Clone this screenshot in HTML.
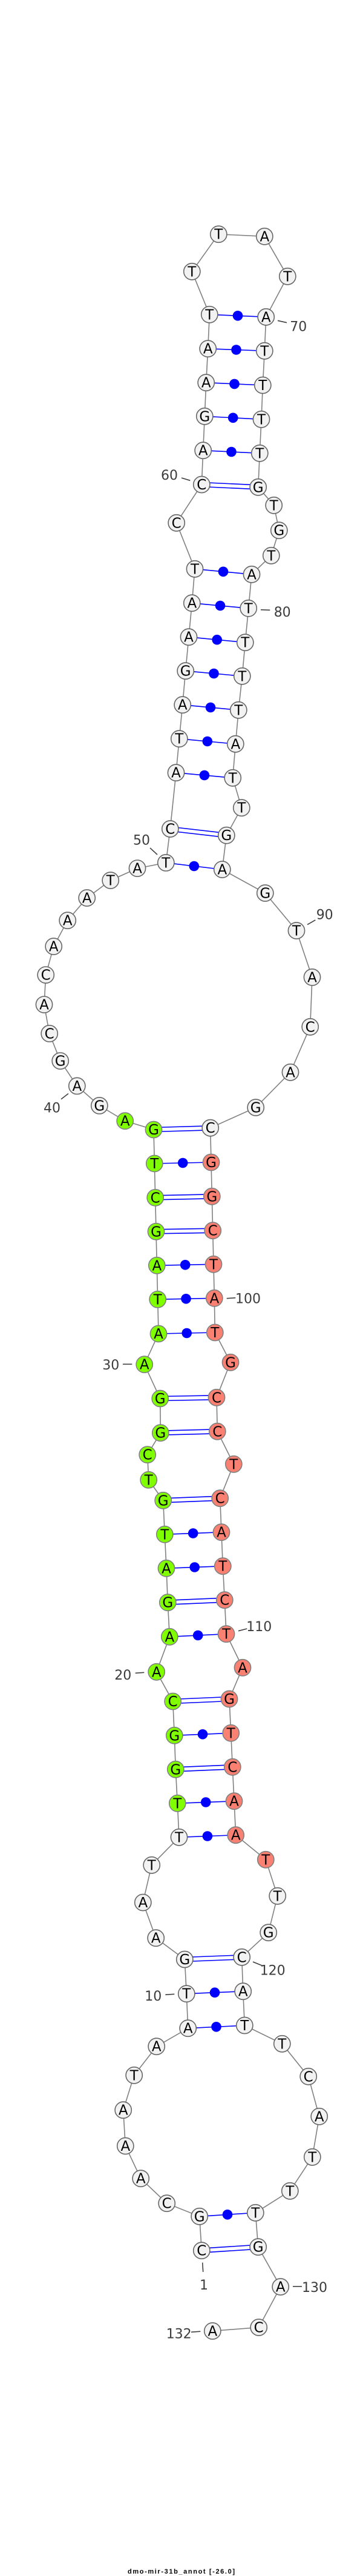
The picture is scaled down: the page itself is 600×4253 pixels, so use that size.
<!DOCTYPE html>
<html><head><meta charset="utf-8"><style>
html,body{margin:0;padding:0;background:#fff}
svg{display:block}
.b{fill:none;stroke:#808080;stroke-width:1.6}
.p line{stroke:#0000ff;stroke-width:1.6}
.d circle{fill:#0000ff}
.n circle{fill:#f2f2f2;stroke:#666;stroke-width:1.6}
.n text{font:23px "DejaVu Sans",sans-serif;text-anchor:middle;fill:#000}
.g circle{fill:#7fff00;stroke:#808080}
.s circle{fill:#fa8072;stroke:#808080}
.t line{stroke:#404040;stroke-width:1.6}
.l text{font:22px "DejaVu Sans",sans-serif;text-anchor:middle;fill:#3c3c3c}
</style></head><body>
<svg xmlns="http://www.w3.org/2000/svg" width="600" height="4253" viewBox="0 0 600 4253">
<polyline class="b" points="333.3,3715.7 329.7,3659.3 275.7,3637.7 232.7,3596.7 207.3,3543 203.7,3483.7 221.7,3426.3 258.7,3378.7 310.7,3348.7 308.3,3291.7 305.3,3235 257.7,3199.7 236.3,3141 250.7,3079.3 296,3033.3 293.3,2977.3 290.3,2921.3 288.3,2865.3 285.7,2809 258.7,2760.3 280.3,2702.3 277.3,2645.7 275,2589.3 272.3,2533.3 269.7,2477.3 245.7,2443.3 243.7,2401.7 265.3,2365.7 264.7,2309 238.7,2252.7 262,2202 260.7,2145.3 259.3,2089.3 258,2033.3 256.7,1977.3 255.3,1921 254,1865 206.7,1850.7 164.3,1825.4 127.3,1792.9 99.7,1751.6 81.7,1706.4 73,1658.6 75.7,1609.6 88.7,1562.5 111.7,1519.7 143.7,1482.5 182.7,1453.5 227,1433.6 274.3,1424.4 281.3,1368.5 291,1275.7 296.3,1219.7 301.7,1163.7 306.7,1107.7 312,1051.7 317.3,995.7 322,939.3 291.7,863.3 333.3,800 335.7,743.7 338.3,687.3 340.7,631.7 343.7,575.7 346.3,519.3 317.3,448.3 361.3,386.7 437.3,390.3 475.3,456.3 439.7,523.3 437.3,579.3 434.3,636 432,692.3 429.3,748.3 426.7,804.3 452.7,834.3 461.3,875.7 448.3,917.3 416,948.3 410.7,1004.3 405.3,1060.7 400.3,1116.3 394.3,1172.3 389.3,1228.3 384.7,1284.3 399.3,1333.7 374.3,1379.2 367.3,1435.5 438.3,1474.5 490,1536.5 516,1613.4 512.7,1695.3 480,1770.3 422.7,1828.5 347.7,1862.2 349,1919 350.3,1975.3 351.7,2031.7 353,2087.3 354.3,2143.3 355.3,2200 381,2249.3 358,2307.3 359.3,2363.3 386.3,2417.3 363.7,2473.7 366,2529.7 368.3,2585.7 371.3,2641.7 374,2697.7 401,2753.3 379,2805 381.7,2861.3 384.3,2917.3 387,2973.7 389.7,3029.7 439.3,3070.3 458.7,3130.3 443.7,3190.7 399.7,3231.3 401.7,3287.7 404.3,3344 466.3,3374.3 509.7,3428.3 527.7,3494.3 516.3,3561.3 479.3,3617.3 422.3,3653.3 426.7,3709.7 463.7,3775.5 427.7,3842.5 351.3,3848.5"/>
<g class="p">
<line x1="329.7" y1="3659.3" x2="422.3" y2="3653.3"/>
<line x1="310.7" y1="3348.7" x2="404.3" y2="3344"/>
<line x1="308.3" y1="3291.7" x2="401.7" y2="3287.7"/>
<line x1="296" y1="3033.3" x2="389.7" y2="3029.7"/>
<line x1="293.3" y1="2977.3" x2="387" y2="2973.7"/>
<line x1="288.3" y1="2865.3" x2="381.7" y2="2861.3"/>
<line x1="280.3" y1="2702.3" x2="374" y2="2697.7"/>
<line x1="275" y1="2589.3" x2="368.3" y2="2585.7"/>
<line x1="272.3" y1="2533.3" x2="366" y2="2529.7"/>
<line x1="262" y1="2202" x2="355.3" y2="2200"/>
<line x1="260.7" y1="2145.3" x2="354.3" y2="2143.3"/>
<line x1="259.3" y1="2089.3" x2="353" y2="2087.3"/>
<line x1="255.3" y1="1921" x2="349" y2="1919"/>
<line x1="274.3" y1="1424.4" x2="367.3" y2="1435.5"/>
<line x1="291" y1="1275.7" x2="384.7" y2="1284.3"/>
<line x1="296.3" y1="1219.7" x2="389.3" y2="1228.3"/>
<line x1="301.7" y1="1163.7" x2="394.3" y2="1172.3"/>
<line x1="306.7" y1="1107.7" x2="400.3" y2="1116.3"/>
<line x1="312" y1="1051.7" x2="405.3" y2="1060.7"/>
<line x1="317.3" y1="995.7" x2="410.7" y2="1004.3"/>
<line x1="322" y1="939.3" x2="416" y2="948.3"/>
<line x1="335.7" y1="743.7" x2="429.3" y2="748.3"/>
<line x1="338.3" y1="687.3" x2="432" y2="692.3"/>
<line x1="340.7" y1="631.7" x2="434.3" y2="636"/>
<line x1="343.7" y1="575.7" x2="437.3" y2="579.3"/>
<line x1="346.3" y1="519.3" x2="439.7" y2="523.3"/>
<line x1="333.3" y1="3712.2" x2="426.7" y2="3706.2"/><line x1="333.3" y1="3719.2" x2="426.7" y2="3713.2"/>
<line x1="305.3" y1="3231.5" x2="399.7" y2="3227.8"/><line x1="305.3" y1="3238.5" x2="399.7" y2="3234.8"/>
<line x1="285.7" y1="2805.5" x2="379" y2="2801.5"/><line x1="285.7" y1="2812.5" x2="379" y2="2808.5"/>
<line x1="290.3" y1="2917.8" x2="384.3" y2="2913.8"/><line x1="290.3" y1="2924.8" x2="384.3" y2="2920.8"/>
<line x1="277.3" y1="2642.2" x2="371.3" y2="2638.2"/><line x1="277.3" y1="2649.2" x2="371.3" y2="2645.2"/>
<line x1="269.7" y1="2473.8" x2="363.7" y2="2470.2"/><line x1="269.7" y1="2480.8" x2="363.7" y2="2477.2"/>
<line x1="265.3" y1="2362.2" x2="359.3" y2="2359.8"/><line x1="265.3" y1="2369.2" x2="359.3" y2="2366.8"/>
<line x1="264.7" y1="2305.5" x2="358" y2="2303.8"/><line x1="264.7" y1="2312.5" x2="358" y2="2310.8"/>
<line x1="258" y1="2029.8" x2="351.7" y2="2028.2"/><line x1="258" y1="2036.8" x2="351.7" y2="2035.2"/>
<line x1="256.7" y1="1973.8" x2="350.3" y2="1971.8"/><line x1="256.7" y1="1980.8" x2="350.3" y2="1978.8"/>
<line x1="254" y1="1861.5" x2="347.7" y2="1858.8"/><line x1="254" y1="1868.5" x2="347.7" y2="1865.8"/>
<line x1="281.3" y1="1365" x2="374.3" y2="1375.7"/><line x1="281.3" y1="1372" x2="374.3" y2="1382.7"/>
<line x1="333.3" y1="796.5" x2="426.7" y2="800.8"/><line x1="333.3" y1="803.5" x2="426.7" y2="807.8"/>
</g>
<g class="d">
<circle cx="376" cy="3656.3" r="8.3"/><circle cx="357.5" cy="3346.3" r="8.3"/><circle cx="355" cy="3289.7" r="8.3"/><circle cx="342.9" cy="3031.5" r="8.3"/><circle cx="340.2" cy="2975.5" r="8.3"/><circle cx="335" cy="2863.3" r="8.3"/><circle cx="327.2" cy="2700" r="8.3"/><circle cx="321.7" cy="2587.5" r="8.3"/><circle cx="319.2" cy="2531.5" r="8.3"/><circle cx="308.7" cy="2201" r="8.3"/><circle cx="307.5" cy="2144.3" r="8.3"/><circle cx="306.2" cy="2088.3" r="8.3"/><circle cx="302.2" cy="1920" r="8.3"/><circle cx="320.8" cy="1430" r="8.3"/><circle cx="337.9" cy="1280" r="8.3"/><circle cx="342.8" cy="1224" r="8.3"/><circle cx="348" cy="1168" r="8.3"/><circle cx="353.5" cy="1112" r="8.3"/><circle cx="358.7" cy="1056.2" r="8.3"/><circle cx="364" cy="1000" r="8.3"/><circle cx="369" cy="943.8" r="8.3"/><circle cx="382.5" cy="746" r="8.3"/><circle cx="385.2" cy="689.8" r="8.3"/><circle cx="387.5" cy="633.9" r="8.3"/><circle cx="390.5" cy="577.5" r="8.3"/><circle cx="393" cy="521.3" r="8.3"/>
</g>
<g class="n">
<g transform="translate(333.3 3715.7)"><circle r="13.6"/><text y="8">C</text></g>
<g transform="translate(329.7 3659.3)"><circle r="13.6"/><text y="8">G</text></g>
<g transform="translate(275.7 3637.7)"><circle r="13.6"/><text y="8">C</text></g>
<g transform="translate(232.7 3596.7)"><circle r="13.6"/><text y="8">A</text></g>
<g transform="translate(207.3 3543)"><circle r="13.6"/><text y="8">A</text></g>
<g transform="translate(203.7 3483.7)"><circle r="13.6"/><text y="8">A</text></g>
<g transform="translate(221.7 3426.3)"><circle r="13.6"/><text y="8">T</text></g>
<g transform="translate(258.7 3378.7)"><circle r="13.6"/><text y="8">A</text></g>
<g transform="translate(310.7 3348.7)"><circle r="13.6"/><text y="8">A</text></g>
<g transform="translate(308.3 3291.7)"><circle r="13.6"/><text y="8">T</text></g>
<g transform="translate(305.3 3235)"><circle r="13.6"/><text y="8">G</text></g>
<g transform="translate(257.7 3199.7)"><circle r="13.6"/><text y="8">A</text></g>
<g transform="translate(236.3 3141)"><circle r="13.6"/><text y="8">A</text></g>
<g transform="translate(250.7 3079.3)"><circle r="13.6"/><text y="8">T</text></g>
<g transform="translate(296 3033.3)"><circle r="13.6"/><text y="8">T</text></g>
<g class="g" transform="translate(293.3 2977.3)"><circle r="13.6"/><text y="8">T</text></g>
<g class="g" transform="translate(290.3 2921.3)"><circle r="13.6"/><text y="8">G</text></g>
<g class="g" transform="translate(288.3 2865.3)"><circle r="13.6"/><text y="8">G</text></g>
<g class="g" transform="translate(285.7 2809)"><circle r="13.6"/><text y="8">C</text></g>
<g class="g" transform="translate(258.7 2760.3)"><circle r="13.6"/><text y="8">A</text></g>
<g class="g" transform="translate(280.3 2702.3)"><circle r="13.6"/><text y="8">A</text></g>
<g class="g" transform="translate(277.3 2645.7)"><circle r="13.6"/><text y="8">G</text></g>
<g class="g" transform="translate(275 2589.3)"><circle r="13.6"/><text y="8">A</text></g>
<g class="g" transform="translate(272.3 2533.3)"><circle r="13.6"/><text y="8">T</text></g>
<g class="g" transform="translate(269.7 2477.3)"><circle r="13.6"/><text y="8">G</text></g>
<g class="g" transform="translate(245.7 2443.3)"><circle r="13.6"/><text y="8">T</text></g>
<g class="g" transform="translate(243.7 2401.7)"><circle r="13.6"/><text y="8">C</text></g>
<g class="g" transform="translate(265.3 2365.7)"><circle r="13.6"/><text y="8">G</text></g>
<g class="g" transform="translate(264.7 2309)"><circle r="13.6"/><text y="8">G</text></g>
<g class="g" transform="translate(238.7 2252.7)"><circle r="13.6"/><text y="8">A</text></g>
<g class="g" transform="translate(262 2202)"><circle r="13.6"/><text y="8">A</text></g>
<g class="g" transform="translate(260.7 2145.3)"><circle r="13.6"/><text y="8">T</text></g>
<g class="g" transform="translate(259.3 2089.3)"><circle r="13.6"/><text y="8">A</text></g>
<g class="g" transform="translate(258 2033.3)"><circle r="13.6"/><text y="8">G</text></g>
<g class="g" transform="translate(256.7 1977.3)"><circle r="13.6"/><text y="8">C</text></g>
<g class="g" transform="translate(255.3 1921)"><circle r="13.6"/><text y="8">T</text></g>
<g class="g" transform="translate(254 1865)"><circle r="13.6"/><text y="8">G</text></g>
<g class="g" transform="translate(206.7 1850.7)"><circle r="13.6"/><text y="8">A</text></g>
<g transform="translate(164.3 1825.4)"><circle r="13.6"/><text y="8">G</text></g>
<g transform="translate(127.3 1792.9)"><circle r="13.6"/><text y="8">A</text></g>
<g transform="translate(99.7 1751.6)"><circle r="13.6"/><text y="8">G</text></g>
<g transform="translate(81.7 1706.4)"><circle r="13.6"/><text y="8">C</text></g>
<g transform="translate(73 1658.6)"><circle r="13.6"/><text y="8">A</text></g>
<g transform="translate(75.7 1609.6)"><circle r="13.6"/><text y="8">C</text></g>
<g transform="translate(88.7 1562.5)"><circle r="13.6"/><text y="8">A</text></g>
<g transform="translate(111.7 1519.7)"><circle r="13.6"/><text y="8">A</text></g>
<g transform="translate(143.7 1482.5)"><circle r="13.6"/><text y="8">A</text></g>
<g transform="translate(182.7 1453.5)"><circle r="13.6"/><text y="8">T</text></g>
<g transform="translate(227 1433.6)"><circle r="13.6"/><text y="8">A</text></g>
<g transform="translate(274.3 1424.4)"><circle r="13.6"/><text y="8">T</text></g>
<g transform="translate(281.3 1368.5)"><circle r="13.6"/><text y="8">C</text></g>
<g transform="translate(291 1275.7)"><circle r="13.6"/><text y="8">A</text></g>
<g transform="translate(296.3 1219.7)"><circle r="13.6"/><text y="8">T</text></g>
<g transform="translate(301.7 1163.7)"><circle r="13.6"/><text y="8">A</text></g>
<g transform="translate(306.7 1107.7)"><circle r="13.6"/><text y="8">G</text></g>
<g transform="translate(312 1051.7)"><circle r="13.6"/><text y="8">A</text></g>
<g transform="translate(317.3 995.7)"><circle r="13.6"/><text y="8">A</text></g>
<g transform="translate(322 939.3)"><circle r="13.6"/><text y="8">T</text></g>
<g transform="translate(291.7 863.3)"><circle r="13.6"/><text y="8">C</text></g>
<g transform="translate(333.3 800)"><circle r="13.6"/><text y="8">C</text></g>
<g transform="translate(335.7 743.7)"><circle r="13.6"/><text y="8">A</text></g>
<g transform="translate(338.3 687.3)"><circle r="13.6"/><text y="8">G</text></g>
<g transform="translate(340.7 631.7)"><circle r="13.6"/><text y="8">A</text></g>
<g transform="translate(343.7 575.7)"><circle r="13.6"/><text y="8">A</text></g>
<g transform="translate(346.3 519.3)"><circle r="13.6"/><text y="8">T</text></g>
<g transform="translate(317.3 448.3)"><circle r="13.6"/><text y="8">T</text></g>
<g transform="translate(361.3 386.7)"><circle r="13.6"/><text y="8">T</text></g>
<g transform="translate(437.3 390.3)"><circle r="13.6"/><text y="8">A</text></g>
<g transform="translate(475.3 456.3)"><circle r="13.6"/><text y="8">T</text></g>
<g transform="translate(439.7 523.3)"><circle r="13.6"/><text y="8">A</text></g>
<g transform="translate(437.3 579.3)"><circle r="13.6"/><text y="8">T</text></g>
<g transform="translate(434.3 636)"><circle r="13.6"/><text y="8">T</text></g>
<g transform="translate(432 692.3)"><circle r="13.6"/><text y="8">T</text></g>
<g transform="translate(429.3 748.3)"><circle r="13.6"/><text y="8">T</text></g>
<g transform="translate(426.7 804.3)"><circle r="13.6"/><text y="8">G</text></g>
<g transform="translate(452.7 834.3)"><circle r="13.6"/><text y="8">T</text></g>
<g transform="translate(461.3 875.7)"><circle r="13.6"/><text y="8">G</text></g>
<g transform="translate(448.3 917.3)"><circle r="13.6"/><text y="8">T</text></g>
<g transform="translate(416 948.3)"><circle r="13.6"/><text y="8">A</text></g>
<g transform="translate(410.7 1004.3)"><circle r="13.6"/><text y="8">T</text></g>
<g transform="translate(405.3 1060.7)"><circle r="13.6"/><text y="8">T</text></g>
<g transform="translate(400.3 1116.3)"><circle r="13.6"/><text y="8">T</text></g>
<g transform="translate(394.3 1172.3)"><circle r="13.6"/><text y="8">T</text></g>
<g transform="translate(389.3 1228.3)"><circle r="13.6"/><text y="8">A</text></g>
<g transform="translate(384.7 1284.3)"><circle r="13.6"/><text y="8">T</text></g>
<g transform="translate(399.3 1333.7)"><circle r="13.6"/><text y="8">T</text></g>
<g transform="translate(374.3 1379.2)"><circle r="13.6"/><text y="8">G</text></g>
<g transform="translate(367.3 1435.5)"><circle r="13.6"/><text y="8">A</text></g>
<g transform="translate(438.3 1474.5)"><circle r="13.6"/><text y="8">G</text></g>
<g transform="translate(490 1536.5)"><circle r="13.6"/><text y="8">T</text></g>
<g transform="translate(516 1613.4)"><circle r="13.6"/><text y="8">A</text></g>
<g transform="translate(512.7 1695.3)"><circle r="13.6"/><text y="8">C</text></g>
<g transform="translate(480 1770.3)"><circle r="13.6"/><text y="8">A</text></g>
<g transform="translate(422.7 1828.5)"><circle r="13.6"/><text y="8">G</text></g>
<g transform="translate(347.7 1862.2)"><circle r="13.6"/><text y="8">C</text></g>
<g class="s" transform="translate(349 1919)"><circle r="13.6"/><text y="8">G</text></g>
<g class="s" transform="translate(350.3 1975.3)"><circle r="13.6"/><text y="8">G</text></g>
<g class="s" transform="translate(351.7 2031.7)"><circle r="13.6"/><text y="8">C</text></g>
<g class="s" transform="translate(353 2087.3)"><circle r="13.6"/><text y="8">T</text></g>
<g class="s" transform="translate(354.3 2143.3)"><circle r="13.6"/><text y="8">A</text></g>
<g class="s" transform="translate(355.3 2200)"><circle r="13.6"/><text y="8">T</text></g>
<g class="s" transform="translate(381 2249.3)"><circle r="13.6"/><text y="8">G</text></g>
<g class="s" transform="translate(358 2307.3)"><circle r="13.6"/><text y="8">C</text></g>
<g class="s" transform="translate(359.3 2363.3)"><circle r="13.6"/><text y="8">C</text></g>
<g class="s" transform="translate(386.3 2417.3)"><circle r="13.6"/><text y="8">T</text></g>
<g class="s" transform="translate(363.7 2473.7)"><circle r="13.6"/><text y="8">C</text></g>
<g class="s" transform="translate(366 2529.7)"><circle r="13.6"/><text y="8">A</text></g>
<g class="s" transform="translate(368.3 2585.7)"><circle r="13.6"/><text y="8">T</text></g>
<g class="s" transform="translate(371.3 2641.7)"><circle r="13.6"/><text y="8">C</text></g>
<g class="s" transform="translate(374 2697.7)"><circle r="13.6"/><text y="8">T</text></g>
<g class="s" transform="translate(401 2753.3)"><circle r="13.6"/><text y="8">A</text></g>
<g class="s" transform="translate(379 2805)"><circle r="13.6"/><text y="8">G</text></g>
<g class="s" transform="translate(381.7 2861.3)"><circle r="13.6"/><text y="8">T</text></g>
<g class="s" transform="translate(384.3 2917.3)"><circle r="13.6"/><text y="8">C</text></g>
<g class="s" transform="translate(387 2973.7)"><circle r="13.6"/><text y="8">A</text></g>
<g class="s" transform="translate(389.7 3029.7)"><circle r="13.6"/><text y="8">A</text></g>
<g class="s" transform="translate(439.3 3070.3)"><circle r="13.6"/><text y="8">T</text></g>
<g transform="translate(458.7 3130.3)"><circle r="13.6"/><text y="8">T</text></g>
<g transform="translate(443.7 3190.7)"><circle r="13.6"/><text y="8">G</text></g>
<g transform="translate(399.7 3231.3)"><circle r="13.6"/><text y="8">C</text></g>
<g transform="translate(401.7 3287.7)"><circle r="13.6"/><text y="8">A</text></g>
<g transform="translate(404.3 3344)"><circle r="13.6"/><text y="8">T</text></g>
<g transform="translate(466.3 3374.3)"><circle r="13.6"/><text y="8">T</text></g>
<g transform="translate(509.7 3428.3)"><circle r="13.6"/><text y="8">C</text></g>
<g transform="translate(527.7 3494.3)"><circle r="13.6"/><text y="8">A</text></g>
<g transform="translate(516.3 3561.3)"><circle r="13.6"/><text y="8">T</text></g>
<g transform="translate(479.3 3617.3)"><circle r="13.6"/><text y="8">T</text></g>
<g transform="translate(422.3 3653.3)"><circle r="13.6"/><text y="8">T</text></g>
<g transform="translate(426.7 3709.7)"><circle r="13.6"/><text y="8">G</text></g>
<g transform="translate(463.7 3775.5)"><circle r="13.6"/><text y="8">A</text></g>
<g transform="translate(427.7 3842.5)"><circle r="13.6"/><text y="8">C</text></g>
<g transform="translate(351.3 3848.5)"><circle r="13.6"/><text y="8">A</text></g>
</g>
<g class="t">
<line x1="459" y1="529.3" x2="474" y2="532.7"/>
<line x1="300" y1="789" x2="314.3" y2="793.3"/>
<line x1="431" y1="1006.7" x2="446.3" y2="1007.3"/>
<line x1="248" y1="1399.9" x2="260" y2="1411"/>
<line x1="508" y1="1526.6" x2="521.3" y2="1518.9"/>
<line x1="101" y1="1814.7" x2="113" y2="1805.5"/>
<line x1="374.7" y1="2143.7" x2="389.3" y2="2142.7"/>
<line x1="203" y1="2252.3" x2="218.3" y2="2252.3"/>
<line x1="394" y1="2692.7" x2="408.3" y2="2689"/>
<line x1="223.7" y1="2762.3" x2="238.3" y2="2761.3"/>
<line x1="418" y1="3239" x2="433.3" y2="3245.3"/>
<line x1="273.3" y1="3293.3" x2="288.3" y2="3292.3"/>
<line x1="334.7" y1="3735.6" x2="335.7" y2="3751"/>
<line x1="484" y1="3775" x2="499" y2="3775"/>
<line x1="316" y1="3850.3" x2="331.3" y2="3849.2"/>
</g>
<g class="l">
<text x="493.3" y="546.7">70</text>
<text x="280" y="792">60</text>
<text x="466.7" y="1018">80</text>
<text x="234" y="1394.5">50</text>
<text x="536.7" y="1517.7">90</text>
<text x="86" y="1836.5">40</text>
<text x="410" y="2151.3">100</text>
<text x="183.3" y="2261">30</text>
<text x="428.3" y="2693">110</text>
<text x="203.3" y="2773">20</text>
<text x="450.7" y="3260.7">120</text>
<text x="253.3" y="3303">10</text>
<text x="337" y="3780">1</text>
<text x="520" y="3783.8">130</text>
<text x="295.7" y="3860.7">132</text>
</g>
<text x="211" y="4249" textLength="177" lengthAdjust="spacing" style="font:bold 11px 'Liberation Sans',sans-serif;fill:#000">dmo-mir-31b_annot [-26.0]</text>
</svg>
</body></html>
